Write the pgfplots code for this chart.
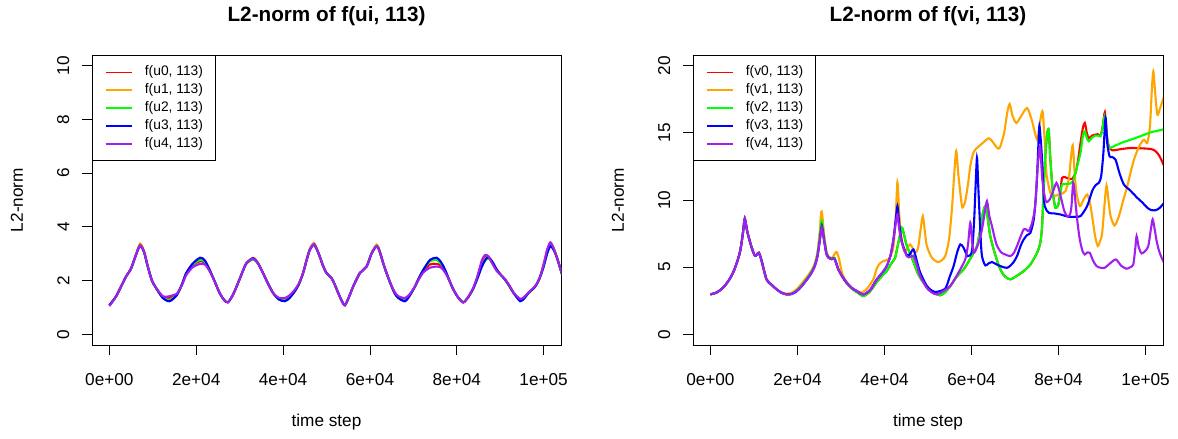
\documentclass[border=0pt]{standalone}
\usepackage{pgfplots}
\pgfplotsset{compat=1.18}
\usepackage{fontspec}
\setmainfont{Liberation Sans}
\definecolor{rred}{HTML}{FF0000}
\definecolor{rorange}{HTML}{FFA500}
\definecolor{rgreen}{HTML}{00FF00}
\definecolor{rblue}{HTML}{0000FF}
\definecolor{rpurple}{HTML}{A020F0}
\pgfplotsset{
  rstyle/.style={
    scale only axis, width=469pt, height=290pt, anchor=south west,
    xmin=-4000, xmax=104000,
    axis line style={black, line width=0.8pt},
    tick style={black, line width=0.8pt},
    tick align=outside, major tick length=10pt,
    xtick pos=bottom, ytick pos=left,
    xtick={0,20000,40000,60000,80000,100000},
    xticklabels={0e+00,2e+04,4e+04,6e+04,8e+04,1e+05},
    scaled x ticks=false, scaled y ticks=false,
    /pgf/number format/assume math mode=true,
    xticklabel style={inner sep=0pt, anchor=north},
    xticklabel shift=18pt,
    yticklabel style={inner sep=0pt, rotate=90, anchor=south},
    yticklabel shift=12.5pt,
    xlabel={time step}, ylabel={L2-norm},
    xlabel style={at={([yshift=-77pt]axis description cs:0.5,0)}, anchor=center},
    ylabel style={at={([xshift=-75pt]axis description cs:0,0.5)}, anchor=center},
    title style={at={([yshift=33pt]axis description cs:0.5,1)}, anchor=center, font=\bfseries\fontsize{20.7}{24}\selectfont},
    legend cell align=left,
    legend style={at={(axis description cs:0,1)}, anchor=north west, draw=black, line width=0.8pt,
      font=\fontsize{13.8}{16}\selectfont, inner xsep=12.5pt, inner ysep=9.5pt, row sep=2.5pt, column sep=11.6pt,
      nodes={inner xsep=0pt, inner ysep=1pt, text height=10pt, text depth=3.3pt}},
    legend image code/.code={\draw[line width=1.7pt] (0pt,0pt) -- (26.7pt,0pt);},
    every axis plot/.append style={line width=2.1pt, smooth, tension=0.45},
  }
}
\begin{document}
\begin{tikzpicture}[font=\fontsize{17.2}{20.6}\selectfont]
\path[use as bounding box] (0pt,0pt) rectangle (1178pt,439pt);
\begin{axis}[rstyle, at={(92pt,94pt)}, ymin=-0.4, ymax=10.4, ytick={0,2,4,6,8,10},
  title={L2-norm of f(ui, 113)}]
\addplot[rred] coordinates {(0,1.08)(1500,1.4)(2700,1.78)(3850,2.15)(5000,2.45)(6000,2.9)(7080,3.34)(8000,3.07)(8850,2.52)(9800,2.0)(10770,1.72)(12300,1.38)(13850,1.35)(15500,1.48)(16700,1.85)(17690,2.25)(19230,2.58)(20900,2.72)(22000,2.66)(23080,2.38)(24300,1.95)(25380,1.54)(26400,1.28)(27300,1.19)(28400,1.45)(29610,1.9)(30600,2.3)(31540,2.64)(33080,2.81)(34200,2.65)(35380,2.28)(36500,1.9)(37690,1.54)(39000,1.32)(40400,1.3)(41500,1.4)(42690,1.62)(43600,1.85)(44610,2.28)(45400,2.75)(46150,3.16)(47080,3.38)(47800,3.17)(48460,2.89)(49200,2.55)(50000,2.28)(51150,2.09)(51900,1.85)(52690,1.54)(53500,1.25)(54230,1.08)(55200,1.4)(56150,1.78)(57690,2.28)(59230,2.52)(60380,3.01)(61540,3.3)(62200,3.12)(63070,2.64)(64000,2.2)(65000,1.78)(65800,1.5)(66540,1.38)(68080,1.3)(69200,1.48)(70380,1.78)(71300,2.1)(72300,2.35)(73840,2.6)(75380,2.62)(76400,2.55)(77300,2.35)(78300,2.0)(79230,1.66)(80400,1.35)(81540,1.19)(82700,1.4)(83840,1.72)(84800,2.15)(85770,2.62)(86600,2.88)(87310,2.87)(88200,2.65)(89230,2.4)(90200,2.2)(91150,2.03)(92100,1.8)(93080,1.54)(94610,1.28)(95600,1.38)(96530,1.54)(98070,1.78)(99100,2.1)(100000,2.6)(100800,3.1)(101540,3.38)(102300,3.2)(103070,2.85)(104300,2.2)};
\addlegendentry{f(u0, 113)}
\addplot[rorange] coordinates {(0,1.08)(1500,1.4)(2700,1.78)(3850,2.15)(5000,2.45)(6000,2.92)(7080,3.38)(8000,3.08)(8850,2.52)(9800,2.0)(10770,1.72)(12300,1.36)(13850,1.28)(15500,1.46)(16700,1.85)(17690,2.27)(19230,2.62)(20900,2.8)(22000,2.72)(23080,2.4)(24300,1.95)(25380,1.54)(26400,1.28)(27300,1.19)(28400,1.45)(29610,1.9)(30600,2.3)(31540,2.64)(33080,2.85)(34200,2.67)(35380,2.28)(36500,1.9)(37690,1.54)(39000,1.3)(40400,1.26)(41500,1.37)(42690,1.6)(43600,1.85)(44610,2.28)(45400,2.77)(46150,3.18)(47080,3.4)(47800,3.18)(48460,2.89)(49200,2.55)(50000,2.28)(51150,2.09)(51900,1.85)(52690,1.54)(53500,1.25)(54230,1.08)(55200,1.4)(56150,1.78)(57690,2.28)(59230,2.52)(60380,3.03)(61540,3.34)(62200,3.14)(63070,2.64)(64000,2.2)(65000,1.78)(65800,1.5)(66540,1.35)(68080,1.25)(69200,1.45)(70380,1.78)(71300,2.1)(72300,2.4)(73840,2.75)(75380,2.83)(76400,2.66)(77300,2.4)(78300,2.0)(79230,1.66)(80400,1.35)(81540,1.19)(82700,1.4)(83840,1.72)(84800,2.12)(85770,2.56)(86600,2.82)(87310,2.87)(88200,2.7)(89230,2.4)(90200,2.2)(91150,2.03)(92100,1.8)(93080,1.54)(94610,1.25)(95600,1.36)(96530,1.54)(98070,1.78)(99100,2.1)(100000,2.56)(100800,3.1)(101540,3.42)(102300,3.22)(103070,2.88)(104300,2.2)};
\addlegendentry{f(u1, 113)}
\addplot[rgreen] coordinates {(0,1.08)(1500,1.4)(2700,1.78)(3850,2.15)(5000,2.45)(6000,2.9)(7080,3.3)(8000,3.05)(8850,2.52)(9800,2.0)(10770,1.72)(12300,1.36)(13850,1.27)(15500,1.46)(16700,1.85)(17690,2.27)(19230,2.6)(20900,2.77)(22000,2.7)(23080,2.4)(24300,1.95)(25380,1.54)(26400,1.28)(27300,1.19)(28400,1.45)(29610,1.9)(30600,2.3)(31540,2.62)(33080,2.79)(34200,2.63)(35380,2.28)(36500,1.9)(37690,1.54)(39000,1.3)(40400,1.25)(41500,1.36)(42690,1.6)(43600,1.85)(44610,2.28)(45400,2.75)(46150,3.14)(47080,3.34)(47800,3.15)(48460,2.89)(49200,2.55)(50000,2.28)(51150,2.09)(51900,1.85)(52690,1.54)(53500,1.25)(54230,1.08)(55200,1.4)(56150,1.78)(57690,2.28)(59230,2.52)(60380,3.01)(61540,3.28)(62200,3.1)(63070,2.64)(64000,2.2)(65000,1.78)(65800,1.5)(66540,1.35)(68080,1.25)(69200,1.45)(70380,1.78)(71300,2.1)(72300,2.4)(73840,2.72)(75380,2.77)(76400,2.62)(77300,2.4)(78300,2.0)(79230,1.66)(80400,1.35)(81540,1.19)(82700,1.4)(83840,1.72)(84800,2.1)(85770,2.52)(86600,2.75)(87310,2.82)(88200,2.68)(89230,2.4)(90200,2.2)(91150,2.03)(92100,1.8)(93080,1.54)(94610,1.25)(95600,1.35)(96530,1.54)(98070,1.78)(99100,2.1)(100000,2.52)(100800,3.0)(101540,3.3)(102300,3.15)(103070,2.85)(104300,2.2)};
\addlegendentry{f(u2, 113)}
\addplot[rblue] coordinates {(0,1.08)(1500,1.4)(2700,1.78)(3850,2.15)(5000,2.45)(6000,2.9)(7080,3.3)(8000,3.05)(8850,2.52)(9800,2.0)(10770,1.72)(12300,1.35)(13850,1.23)(15500,1.45)(16700,1.85)(17690,2.28)(19230,2.64)(20900,2.85)(22000,2.75)(23080,2.4)(24300,1.95)(25380,1.54)(26400,1.28)(27300,1.19)(28400,1.45)(29610,1.9)(30600,2.3)(31540,2.64)(33080,2.83)(34200,2.65)(35380,2.28)(36500,1.9)(37690,1.54)(39000,1.3)(40400,1.23)(41500,1.35)(42690,1.6)(43600,1.85)(44610,2.28)(45400,2.75)(46150,3.14)(47080,3.34)(47800,3.15)(48460,2.89)(49200,2.55)(50000,2.28)(51150,2.09)(51900,1.85)(52690,1.54)(53500,1.25)(54230,1.08)(55200,1.4)(56150,1.78)(57690,2.28)(59230,2.52)(60380,3.01)(61540,3.28)(62200,3.1)(63070,2.64)(64000,2.2)(65000,1.78)(65800,1.5)(66540,1.35)(68080,1.23)(69200,1.45)(70380,1.78)(71300,2.1)(72300,2.4)(73840,2.77)(75380,2.85)(76400,2.68)(77300,2.4)(78300,2.0)(79230,1.66)(80400,1.35)(81540,1.19)(82700,1.4)(83840,1.72)(84800,2.1)(85770,2.52)(86600,2.78)(87310,2.87)(88200,2.7)(89230,2.4)(90200,2.2)(91150,2.03)(92100,1.8)(93080,1.54)(94610,1.23)(95600,1.35)(96530,1.54)(98070,1.78)(99100,2.1)(100000,2.52)(100800,3.0)(101540,3.28)(102300,3.15)(103070,2.85)(104300,2.2)};
\addlegendentry{f(u3, 113)}
\addplot[rpurple] coordinates {(0,1.05)(1500,1.4)(2700,1.78)(3850,2.15)(5000,2.45)(6000,2.9)(7080,3.32)(8000,3.06)(8850,2.52)(9800,2.0)(10770,1.72)(12300,1.42)(13300,1.4)(14600,1.45)(15500,1.5)(16700,1.82)(17690,2.2)(19230,2.5)(20900,2.62)(22000,2.6)(23080,2.35)(24300,1.95)(25380,1.54)(26400,1.28)(27300,1.19)(28400,1.45)(29610,1.9)(30600,2.3)(31540,2.64)(33080,2.81)(34200,2.65)(35380,2.28)(36500,1.9)(37690,1.54)(39000,1.36)(40400,1.35)(41500,1.45)(42690,1.66)(43600,1.88)(44610,2.28)(45400,2.75)(46150,3.14)(47080,3.36)(47800,3.15)(48460,2.89)(49200,2.55)(50000,2.28)(51150,2.09)(51900,1.85)(52690,1.54)(53500,1.25)(54230,1.08)(55200,1.4)(56150,1.78)(57690,2.28)(59230,2.52)(60380,3.01)(61540,3.28)(62200,3.1)(63070,2.64)(64000,2.2)(65000,1.8)(65800,1.55)(66540,1.42)(68080,1.35)(69200,1.5)(70380,1.78)(71300,2.05)(72300,2.3)(73840,2.48)(75380,2.52)(76400,2.48)(77300,2.3)(78300,2.0)(79230,1.66)(80400,1.35)(81540,1.19)(82700,1.4)(83840,1.75)(84800,2.2)(85770,2.75)(86540,2.95)(87310,2.9)(88200,2.62)(89230,2.35)(90200,2.2)(91150,2.05)(92100,1.82)(93080,1.55)(94610,1.32)(95600,1.4)(96530,1.56)(98070,1.8)(99100,2.1)(100000,2.6)(100800,3.15)(101540,3.42)(102300,3.2)(103070,2.85)(104300,2.2)};
\addlegendentry{f(u4, 113)}
\end{axis}
\begin{axis}[rstyle, at={(693pt,94pt)}, width=470pt, ymin=-0.8, ymax=20.8, ytick={0,5,10,15,20},
  title={L2-norm of f(vi, 113)}]
\addplot[rred] coordinates {(0,2.97)(1500,3.12)(2900,3.47)(4200,4.0)(5200,4.58)(6200,5.45)(6900,6.3)(7500,7.6)(7900,8.6)(8500,7.6)(9440,6.5)(10200,5.85)(10700,5.95)(11130,6.07)(11740,5.5)(12890,4.09)(14000,3.7)(15200,3.35)(16300,3.1)(17500,2.97)(18700,3.02)(19800,3.25)(20900,3.62)(22000,4.08)(23000,4.55)(23900,5.1)(24600,5.95)(25100,7.2)(25550,8.43)(26100,7.2)(26700,6.0)(27300,5.7)(27860,5.62)(28500,5.68)(29400,4.83)(30300,4.3)(31310,3.8)(32500,3.4)(33620,3.15)(35150,2.85)(36700,3.2)(38220,3.9)(39750,4.45)(40520,4.7)(41670,5.33)(42440,5.7)(43300,7.0)(43980,7.93)(44500,7.4)(45130,6.6)(46660,5.4)(47700,4.5)(48970,3.84)(50000,3.35)(51270,3.1)(52800,2.9)(54000,3.15)(55110,3.59)(56640,4.3)(58180,4.83)(59300,5.4)(60480,6.07)(61300,6.6)(62000,7.8)(62600,9.0)(63170,9.54)(63700,8.7)(64310,7.31)(65470,5.9)(66620,4.83)(67700,4.3)(68920,4.09)(70400,4.35)(71990,4.71)(73530,5.2)(75060,6.07)(75800,6.8)(76210,8.05)(76600,11.0)(77000,13.5)(77400,15.0)(77750,15.19)(78050,13.4)(78280,12.27)(78600,10.9)(78900,10.04)(79280,9.42)(79700,9.5)(80050,9.79)(80500,10.9)(80820,11.65)(81500,11.7)(82200,11.6)(83120,11.58)(83890,12.0)(84500,13.0)(85040,14.25)(85600,15.4)(86040,15.74)(86500,15.0)(86960,14.6)(87700,14.8)(88490,14.87)(89000,14.9)(89640,14.8)(90150,15.5)(90640,16.53)(91100,14.8)(91570,13.99)(92330,13.7)(94500,13.8)(96550,13.87)(99000,13.85)(101160,13.8)(102000,13.7)(102690,13.5)(103300,13.2)(104300,12.5)};
\addlegendentry{f(v0, 113)}
\addplot[rorange] coordinates {(0,2.97)(1500,3.12)(2900,3.47)(4200,4.0)(5200,4.58)(6200,5.45)(6900,6.3)(7500,7.6)(7900,8.6)(8500,7.6)(9440,6.5)(10200,5.85)(10700,5.95)(11130,6.07)(11740,5.5)(12890,4.09)(14000,3.7)(15200,3.35)(16300,3.12)(17500,3.02)(18700,3.1)(19800,3.35)(20900,3.75)(22000,4.2)(23000,4.65)(23900,5.2)(24600,6.1)(25100,7.6)(25450,9.1)(25700,8.9)(26100,7.5)(26700,6.1)(27300,5.75)(28000,5.7)(28700,6.05)(29010,6.12)(29500,5.7)(30300,4.5)(31310,3.9)(32500,3.45)(33620,3.22)(34770,3.1)(36000,3.4)(37440,4.09)(38220,4.9)(39000,5.3)(39750,5.45)(40900,5.57)(41500,5.9)(42060,6.56)(42550,8.5)(42970,11.32)(43350,9.2)(43740,7.55)(44510,6.19)(45200,6.4)(45890,6.69)(46500,6.4)(47040,6.07)(47700,6.4)(48300,7.8)(48810,8.8)(49300,7.6)(49740,6.56)(50890,5.7)(52190,5.38)(53100,5.5)(53960,5.82)(54800,7.0)(55490,9.3)(56000,11.8)(56490,13.63)(57000,11.8)(57800,9.55)(58200,9.6)(58570,9.92)(59200,11.2)(59720,12.52)(60300,13.4)(60870,13.75)(62400,14.2)(63940,14.6)(64800,14.35)(65860,13.9)(66500,13.9)(67500,15.0)(68200,16.5)(68760,17.15)(69400,16.3)(70300,15.74)(71500,16.3)(72760,16.85)(73800,16.0)(75060,14.49)(75600,15.5)(76000,16.3)(76360,16.53)(76800,14.5)(77200,12.02)(78120,10.53)(79000,10.3)(80050,10.41)(81000,10.5)(81580,10.66)(82350,11.53)(82800,13.0)(83270,14.07)(83700,12.0)(84120,10.53)(84880,9.55)(85700,10.0)(86570,10.41)(87200,9.8)(87720,8.8)(88400,7.3)(89020,6.57)(89600,7.0)(90020,7.55)(90600,9.8)(91020,11.08)(91500,9.9)(91950,8.8)(92870,8.1)(93870,8.8)(94800,9.9)(95790,11.03)(96500,12.0)(97320,13.0)(98000,13.6)(98710,14.12)(99630,14.49)(100390,14.25)(101000,15.5)(101400,18.0)(101770,19.58)(102200,18.0)(102690,16.36)(103300,16.8)(104300,17.8)};
\addlegendentry{f(v1, 113)}
\addplot[rgreen] coordinates {(0,2.97)(1500,3.12)(2900,3.47)(4200,4.0)(5200,4.58)(6200,5.45)(6900,6.3)(7500,7.6)(7900,8.6)(8500,7.6)(9440,6.5)(10200,5.85)(10700,5.95)(11130,6.07)(11740,5.5)(12890,4.09)(14000,3.7)(15200,3.35)(16300,3.1)(17500,2.97)(18700,3.02)(19800,3.25)(20900,3.62)(22000,4.08)(23000,4.55)(23900,5.1)(24600,5.95)(25100,7.2)(25550,8.43)(26100,7.2)(26700,6.0)(27300,5.7)(27860,5.62)(28500,5.68)(29400,4.83)(30300,4.3)(31310,3.8)(32500,3.4)(33620,3.15)(35150,2.85)(36700,3.2)(38220,3.9)(39750,4.45)(40520,4.7)(41670,5.33)(42440,5.7)(43300,7.0)(43980,7.93)(44500,7.4)(45130,6.6)(46660,5.4)(47700,4.5)(48970,3.84)(50000,3.35)(51270,3.1)(52800,2.9)(54000,3.15)(55110,3.59)(56640,4.3)(58180,4.83)(59300,5.4)(60480,6.07)(61300,6.6)(62000,7.8)(62600,9.0)(63170,9.54)(63700,8.7)(64310,7.31)(65470,5.9)(66620,4.83)(67700,4.3)(68920,4.09)(70400,4.35)(71990,4.71)(73530,5.2)(75060,6.07)(75800,6.8)(76210,8.05)(76600,11.0)(77000,13.5)(77400,15.0)(77750,15.19)(78050,13.4)(78280,12.27)(78600,10.9)(78900,10.04)(79280,9.42)(79700,9.5)(80050,9.79)(80500,10.6)(80820,11.15)(81800,11.2)(82740,11.23)(83300,11.4)(83890,12.0)(84500,12.8)(85040,13.5)(85600,14.8)(86040,15.12)(86500,14.6)(86960,14.37)(87700,14.65)(88490,14.8)(89000,14.8)(89640,14.75)(90100,15.3)(90560,16.23)(91000,15.0)(91400,14.1)(91800,13.87)(93000,14.05)(94800,14.3)(96550,14.49)(98800,14.75)(101160,15.04)(102700,15.15)(104300,15.28)};
\addlegendentry{f(v2, 113)}
\addplot[rblue] coordinates {(0,2.97)(1500,3.12)(2900,3.47)(4200,4.0)(5200,4.58)(6200,5.45)(6900,6.3)(7500,7.6)(7900,8.6)(8500,7.6)(9440,6.5)(10200,5.85)(10700,5.95)(11130,6.07)(11740,5.5)(12890,4.09)(14000,3.7)(15200,3.35)(16300,3.1)(17500,2.97)(18700,3.0)(19800,3.2)(20900,3.55)(22000,4.0)(23000,4.45)(23900,5.0)(24600,5.8)(25100,6.9)(25600,8.05)(26100,7.05)(26700,5.95)(27300,5.68)(27860,5.6)(28500,5.62)(29400,4.83)(30300,4.3)(31310,3.84)(32500,3.45)(33620,3.22)(35150,2.97)(36700,3.3)(38220,4.09)(39400,4.55)(40520,5.08)(41400,5.9)(42060,7.1)(42600,8.6)(42980,9.54)(43400,8.2)(43980,6.9)(45130,5.9)(45900,6.0)(46660,6.32)(47400,5.5)(48200,4.6)(49730,3.6)(50900,3.25)(51880,3.15)(53960,3.4)(55000,4.3)(55880,5.08)(56700,6.1)(57420,6.69)(58180,6.44)(59100,5.82)(60100,6.19)(60600,8.5)(60870,10.53)(61250,13.13)(61550,11.0)(61790,9.3)(62100,7.2)(62400,5.82)(63170,5.13)(64000,5.3)(64700,5.38)(66220,5.13)(68150,4.95)(69500,5.3)(70450,5.82)(71300,6.6)(71990,7.06)(72800,7.4)(73530,7.55)(74300,8.55)(74800,10.3)(75060,11.78)(75350,14.0)(75600,15.5)(75900,14.5)(76210,13.03)(76500,11.0)(76820,9.55)(77740,9.05)(79000,9.0)(80430,8.92)(82350,8.75)(83800,8.75)(85040,8.8)(86570,9.55)(87720,10.67)(88500,11.1)(89250,11.28)(89800,11.8)(90300,13.5)(90790,16.1)(91200,14.2)(91720,13.25)(92300,13.2)(93100,13.0)(94000,12.0)(95020,11.15)(96500,10.7)(98090,10.16)(99300,9.8)(100390,9.42)(101300,9.25)(102310,9.24)(103200,9.4)(104300,9.8)};
\addlegendentry{f(v3, 113)}
\addplot[rpurple] coordinates {(0,2.97)(1500,3.12)(2900,3.47)(4200,4.0)(5200,4.58)(6200,5.45)(6900,6.3)(7500,7.6)(7900,8.6)(8500,7.6)(9440,6.5)(10200,5.85)(10700,5.95)(11130,6.07)(11740,5.5)(12890,4.09)(14000,3.7)(15200,3.35)(16300,3.1)(17500,2.97)(18700,3.0)(19800,3.2)(20900,3.55)(22000,4.0)(23000,4.45)(23900,5.0)(24600,5.8)(25100,6.9)(25600,7.95)(26100,7.0)(26700,5.9)(27300,5.65)(27860,5.58)(28500,5.6)(29400,4.83)(30300,4.3)(31310,3.84)(32500,3.45)(33620,3.22)(35150,2.97)(36700,3.3)(38220,4.09)(39400,4.55)(40520,5.08)(41400,5.9)(42060,7.06)(42600,8.3)(42980,8.92)(43400,7.8)(43980,6.82)(45130,5.82)(45900,5.75)(46660,5.85)(47400,5.2)(48200,4.34)(49730,3.47)(50900,3.1)(52040,2.97)(53500,3.2)(55100,3.59)(56300,4.2)(57410,4.83)(58560,5.58)(59200,6.7)(59710,8.3)(60150,6.9)(60480,6.07)(61000,6.3)(61630,6.82)(62400,7.8)(63000,9.0)(63550,9.91)(64100,8.8)(64700,8.05)(65300,7.2)(65850,6.6)(66800,6.1)(67770,5.94)(68920,5.82)(69700,6.05)(70450,6.57)(71300,7.3)(71990,7.81)(72600,7.8)(73140,7.68)(73910,8.3)(74600,9.5)(75060,11.78)(75500,13.6)(75800,13.9)(76280,11.5)(77050,9.92)(77970,10.04)(78900,10.8)(79500,11.28)(80000,10.9)(80660,10.04)(81300,9.2)(81970,8.8)(82600,8.9)(82970,9.55)(83350,11.28)(83700,10.5)(83960,9.55)(84400,8.2)(84880,7.06)(85500,6.2)(86030,5.94)(86600,6.1)(87180,6.07)(87900,5.5)(88720,5.08)(89700,4.95)(90640,4.96)(91900,5.3)(93170,5.57)(94400,5.1)(95630,4.88)(96500,5.0)(97170,5.2)(97600,6.3)(97940,7.31)(98400,6.5)(99090,6.02)(99900,6.2)(100620,6.57)(101200,7.8)(101620,8.55)(102100,7.8)(102540,6.94)(103100,6.2)(103690,5.7)(104300,5.3)};
\addlegendentry{f(v4, 113)}
\end{axis}
\end{tikzpicture}
\end{document}
